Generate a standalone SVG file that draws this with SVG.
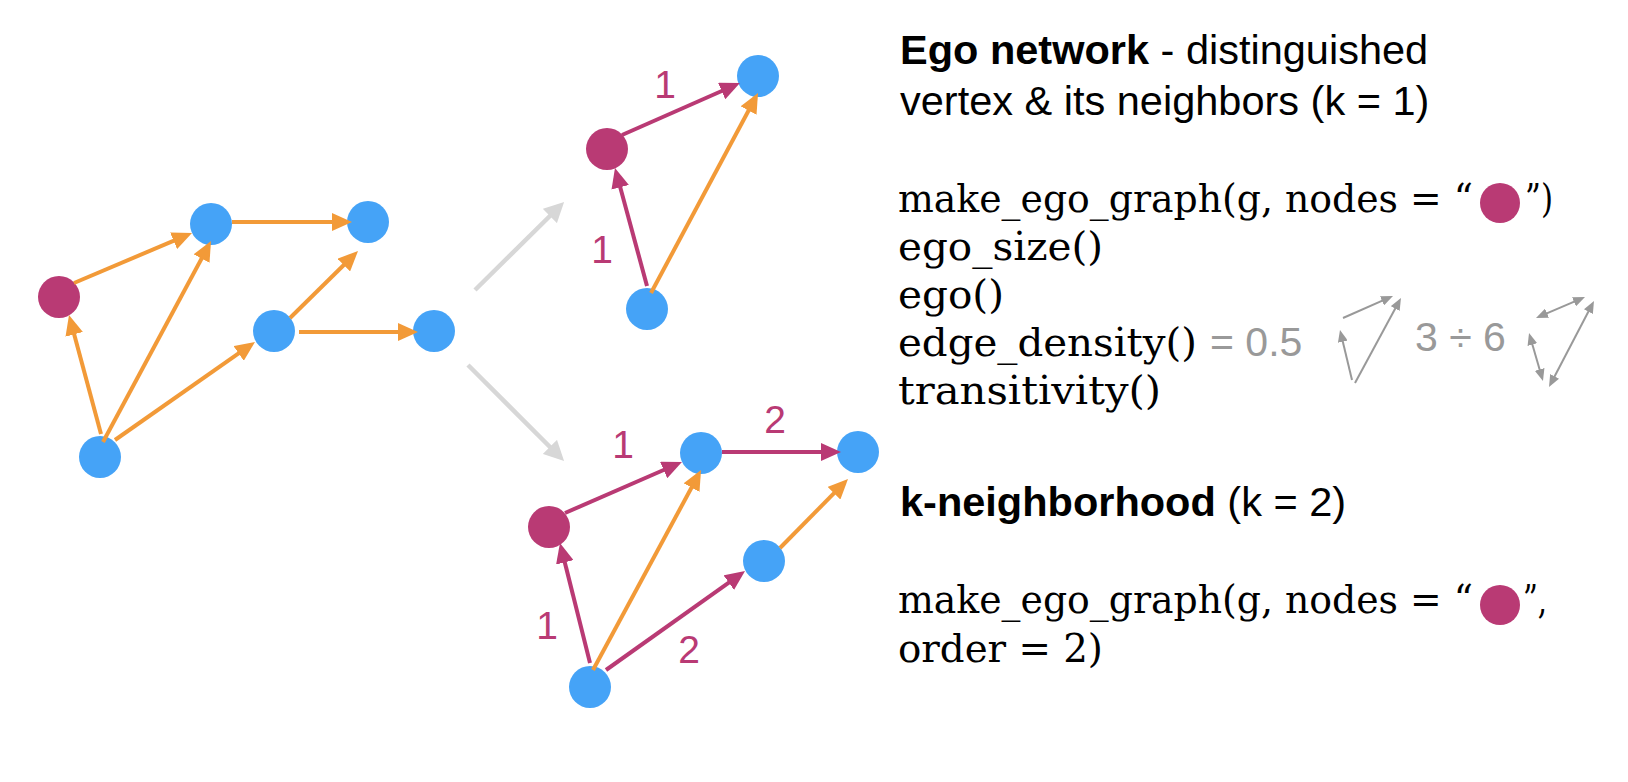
<svg xmlns="http://www.w3.org/2000/svg" width="1628" height="782" viewBox="0 0 1628 782">
<defs>
<style>
.blue{fill:#45A3F7}
.mag{fill:#B93A74}
.eo{stroke:#F29A38;stroke-width:4;fill:none;marker-end:url(#ho)}
.em{stroke:#B93A74;stroke-width:4;fill:none;marker-end:url(#hm)}
.eg{stroke:#D7D7D7;stroke-width:4.5;fill:none;marker-end:url(#hg)}
.es{stroke:#999;stroke-width:2;fill:none;marker-end:url(#hs)}
.ed{stroke:#999;stroke-width:2;fill:none;marker-end:url(#hs);marker-start:url(#hs)}
.lbl{font-family:"Liberation Sans",Arial,sans-serif;font-size:39px;fill:#B93A74;text-anchor:middle}
.hd{font-family:"Liberation Sans",Arial,sans-serif;font-size:41.5px;fill:#000}
.b{font-weight:bold}
.code{font-family:"DejaVu Serif","Liberation Serif",serif;font-size:40px;fill:#000}
.gt{font-family:"Liberation Sans",Arial,sans-serif;font-size:41px;fill:#999}
</style>
<marker id="ho" markerUnits="userSpaceOnUse" markerWidth="20" markerHeight="18" refX="10" refY="9" orient="auto"><path d="M0,0 L20,9 L0,18 z" fill="#F29A38"/></marker>
<marker id="hm" markerUnits="userSpaceOnUse" markerWidth="20" markerHeight="18" refX="10" refY="9" orient="auto"><path d="M0,0 L20,9 L0,18 z" fill="#B93A74"/></marker>
<marker id="hg" markerUnits="userSpaceOnUse" markerWidth="20" markerHeight="20" refX="10" refY="10" orient="auto"><path d="M0,0 L20,10 L0,20 z" fill="#D7D7D7"/></marker>
<marker id="hs" markerUnits="userSpaceOnUse" markerWidth="12" markerHeight="10" refX="6" refY="5" orient="auto-start-reverse"><path d="M0,0 L12,5 L0,10 z" fill="#999"/></marker>
</defs>
<rect width="1628" height="782" fill="#fff"/>

<!-- left graph nodes -->
<g id="g1-ego"><circle class="mag" cx="59" cy="297" r="21"/></g>
<g id="g1-a"><circle class="blue" cx="211" cy="224" r="21"/></g>
<g id="g1-b"><circle class="blue" cx="368" cy="222" r="21"/></g>
<g id="g1-c"><circle class="blue" cx="274" cy="331" r="21"/></g>
<g id="g1-d"><circle class="blue" cx="434" cy="331" r="21"/></g>
<g id="g1-e"><circle class="blue" cx="100" cy="457" r="21"/></g>

<!-- top graph nodes -->
<g id="g2-ego"><circle class="mag" cx="607" cy="149" r="21"/></g>
<g id="g2-t"><circle class="blue" cx="758" cy="76" r="21"/></g>
<g id="g2-bot"><circle class="blue" cx="647" cy="309" r="21"/></g>

<!-- bottom graph nodes -->
<g id="g3-ego"><circle class="mag" cx="549" cy="527" r="21"/></g>
<g id="g3-tm"><circle class="blue" cx="701" cy="453" r="21"/></g>
<g id="g3-tr"><circle class="blue" cx="858" cy="452" r="21"/></g>
<g id="g3-mid"><circle class="blue" cx="764" cy="561" r="21"/></g>
<g id="g3-bot"><circle class="blue" cx="590" cy="687" r="21"/></g>

<g id="connectors">
<line class="eo" x1="74" y1="283" x2="182.8" y2="236.9"/>
<line class="eo" x1="232" y1="222" x2="342" y2="222"/>
<line class="eo" x1="101" y1="434" x2="71.6" y2="324.7"/>
<line class="eo" x1="103" y1="442" x2="206.3" y2="249.8"/>
<line class="eo" x1="115" y1="440" x2="246.8" y2="347.7"/>
<line class="eo" x1="290" y1="318" x2="350.9" y2="258"/>
<line class="eo" x1="299" y1="332" x2="408" y2="332"/>

<line class="eg" x1="475" y1="290" x2="557" y2="209"/>
<line class="eg" x1="468" y1="365" x2="557" y2="454"/>

<line class="em" x1="622" y1="135" x2="730.8" y2="87"/>
<line class="em" x1="647" y1="286" x2="617.6" y2="177.6"/>
<line class="eo" x1="651" y1="293" x2="753.3" y2="101.8"/>

<line class="em" x1="565" y1="513" x2="672.8" y2="466"/>
<line class="em" x1="722" y1="452" x2="831" y2="452"/>
<line class="em" x1="590" y1="663" x2="562.4" y2="552.7"/>
<line class="eo" x1="593" y1="670" x2="696.3" y2="478.8"/>
<line class="em" x1="606" y1="670" x2="736.9" y2="576.8"/>
<line class="eo" x1="780" y1="548" x2="841" y2="486.1"/>

<line class="es" x1="1343" y1="318" x2="1387.5" y2="298.4"/>
<line class="es" x1="1355" y1="383" x2="1398.1" y2="303.3"/>
<line class="es" x1="1352" y1="380" x2="1341.4" y2="335.8"/>
<line class="ed" x1="1541.5" y1="315.6" x2="1579.5" y2="299.4"/>
<line class="ed" x1="1530.7" y1="338.8" x2="1541.3" y2="375.2"/>
<line class="ed" x1="1551.8" y1="381.7" x2="1591.2" y2="306.3"/>
</g>

<g id="edge-labels">
<text class="lbl" x="665" y="98">1</text>
<text class="lbl" x="602" y="263">1</text>
<text class="lbl" x="623" y="458">1</text>
<text class="lbl" x="775" y="433">2</text>
<text class="lbl" x="547" y="639">1</text>
<text class="lbl" x="689" y="663">2</text>
</g>

<g id="text-block">
<text class="hd" x="900" y="64"><tspan class="b">Ego network</tspan> - distinguished</text>
<text class="hd" x="900" y="115">vertex &amp; its neighbors (k = 1)</text>

<text class="code" x="898" y="212" textLength="575" lengthAdjust="spacingAndGlyphs">make_ego_graph(g, nodes = “</text>
<circle class="mag" cx="1500" cy="203" r="20"/>
<text class="code" x="1525" y="212" textLength="28" lengthAdjust="spacingAndGlyphs">”)</text>
<text class="code" x="898" y="260" textLength="205" lengthAdjust="spacingAndGlyphs">ego_size()</text>
<text class="code" x="898" y="308" textLength="106" lengthAdjust="spacingAndGlyphs">ego()</text>
<text class="code" x="898" y="356" textLength="299" lengthAdjust="spacingAndGlyphs">edge_density()</text>
<text class="gt" x="1210" y="356">= 0.5</text>
<text class="gt" x="1415" y="351">3 ÷ 6</text>
<text class="code" x="898" y="404" textLength="263" lengthAdjust="spacingAndGlyphs">transitivity()</text>

<text class="hd" x="900" y="516"><tspan class="b">k-neighborhood</tspan> (k = 2)</text>
<text class="code" x="898" y="613" textLength="575" lengthAdjust="spacingAndGlyphs">make_ego_graph(g, nodes = “</text>
<circle class="mag" cx="1500" cy="605" r="20"/>
<text class="code" x="1523" y="613" textLength="24" lengthAdjust="spacingAndGlyphs">”,</text>
<text class="code" x="898" y="662" textLength="205" lengthAdjust="spacingAndGlyphs">order = 2)</text>
</g>
</svg>
